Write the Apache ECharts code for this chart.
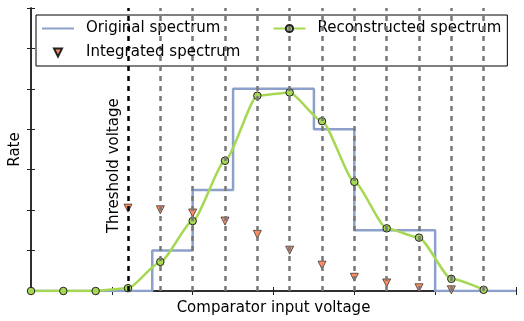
<!DOCTYPE html>
<html>
<head>
<meta charset="utf-8">
<script src="https://cdn.jsdelivr.net/npm/echarts@6/dist/echarts.min.js"></script>
<style>
  html, body { margin: 0; padding: 0; background: #fff; }
  #chart { width: 524px; height: 321px; }
</style>
</head>
<body>
<div id="chart"></div>
<script>
// original spectrum (step edges and levels)
const stepX = [0, 1.5, 2, 2.5, 3.5, 4, 5, 6]
const stepY = [0, 1, 2.5, 5, 4, 1.5, 0, 0]

// reconstructed spectrum samples
const sampleX = [0, 0.4, 0.8, 1.2, 1.6, 2.0, 2.4, 2.8, 3.2, 3.6, 4.0, 4.4, 4.8, 5.2, 5.6]
const recon = [0, 0, 0, 0.07, 0.72, 1.73, 3.22, 4.83, 4.91, 4.2, 2.7, 1.55, 1.32, 0.3, 0.03]

// integrated spectrum
const integX = [1.2, 1.6, 2.0, 2.4, 2.8, 3.2, 3.6, 4.0, 4.4, 4.8, 5.2]
const integ = [2.05, 2.01, 1.93, 1.73, 1.40, 1.01, 0.64, 0.34, 0.20, 0.08, 0.03]

// comparator levels
const thresholdX = 1.2
const edgeX = [1.6, 2.0, 2.4, 2.8, 3.2, 3.6, 4.0, 4.4, 4.8, 5.2, 5.6]

const FONT = 'DejaVu Sans'
const zip = (xs, ys) => xs.map((x, i) => [x, ys[i]])

const frameAxis = {
  type: 'value',
  axisLine: { show: true, lineStyle: { color: '#222', width: 1.5 } },
  axisTick: { show: true, inside: true, length: 4, lineStyle: { color: '#222', width: 1 } },
  axisLabel: { show: false },
  splitLine: { show: false }
}

const chart = echarts.init(document.getElementById('chart'))

const option = {
  animation: false,
  backgroundColor: '#fff',
  grid: { left: 28, right: 8, top: 8, bottom: 29 },
  legend: [
    {
      data: [
        { name: 'Original spectrum', itemStyle: { opacity: 0, borderWidth: 0 } },
        'Reconstructed spectrum'
      ],
      left: 36,
      top: 15,
      padding: [6, 6, 30, 5],
      itemWidth: 32,
      itemHeight: 9,
      itemGap: 52,
      backgroundColor: '#fff',
      borderColor: '#000',
      borderWidth: 1,
      textStyle: { fontFamily: FONT, fontSize: 15, color: '#000', padding: [0, 0, 0, 7] }
    },
    {
      data: ['Integrated spectrum'],
      left: 53,
      top: 45,
      padding: 0,
      itemWidth: 8,
      itemHeight: 8,
      z: 6,
      textStyle: { fontFamily: FONT, fontSize: 15, color: '#000', padding: [0, 0, 0, 19] }
    }
  ],
  xAxis: [
    Object.assign({}, frameAxis, {
      min: 0, max: 6, interval: 1, position: 'bottom',
      name: 'Comparator input voltage',
      nameLocation: 'middle',
      nameGap: 10,
      nameTextStyle: { fontFamily: FONT, fontSize: 15, color: '#000' }
    }),
    Object.assign({}, frameAxis, { min: 0, max: 6, interval: 1, position: 'top' })
  ],
  yAxis: [
    Object.assign({}, frameAxis, {
      min: 0, max: 7, interval: 1, position: 'left',
      name: 'Rate',
      nameLocation: 'middle',
      nameGap: 8,
      nameTextStyle: { fontFamily: FONT, fontSize: 15, color: '#000' }
    }),
    Object.assign({}, frameAxis, { min: 0, max: 7, interval: 1, position: 'right' })
  ],
  series: [
    {
      name: 'levels',
      type: 'line',
      data: [],
      z: 1,
      markLine: {
        silent: true,
        symbol: 'none',
        label: { show: false },
        lineStyle: { color: '#777', width: 2.5, type: [5, 5] },
        data: [
          { xAxis: thresholdX, lineStyle: { color: '#000', width: 2.5, type: [5, 5] } },
          ...edgeX.map(x => ({ xAxis: x }))
        ]
      }
    },
    {
      name: 'Original spectrum',
      type: 'line',
      step: 'end',
      data: zip(stepX, stepY),
      symbol: 'none',
      z: 2,
      color: '#8da0cb',
      lineStyle: { color: '#8da0cb', width: 2.5 }
    },
    {
      name: 'Integrated spectrum',
      type: 'scatter',
      data: zip(integX, integ),
      symbol: 'path://M0,0L2,0L1,2Z',
      symbolSize: 8,
      z: 3,
      itemStyle: { color: '#fc8d62', opacity: 1, borderColor: '#222', borderWidth: 0.7 }
    },
    {
      name: 'Reconstructed spectrum',
      type: 'line',
      data: zip(sampleX, recon),
      smooth: 0.2,
      smoothMonotone: 'x',
      symbol: 'circle',
      symbolSize: 7.5,
      showAllSymbol: true,
      z: 4,
      color: '#a6d854',
      lineStyle: { color: '#a6d854', width: 2.5 },
      itemStyle: { color: '#a6d854', borderColor: '#222', borderWidth: 1 }
    }
  ]
}

chart.setOption(option)

// rotated label next to the threshold line
const p = chart.convertToPixel({ gridIndex: 0 }, [thresholdX, 3.1])
chart.setOption({
  graphic: [{
    type: 'text',
    x: p[0] - 14,
    y: p[1],
    rotation: Math.PI / 2,
    z: 10,
    style: { text: 'Threshold voltage', font: '15px "DejaVu Sans"', fill: '#000', align: 'center', verticalAlign: 'middle' }
  }]
})
</script>
</body>
</html>
